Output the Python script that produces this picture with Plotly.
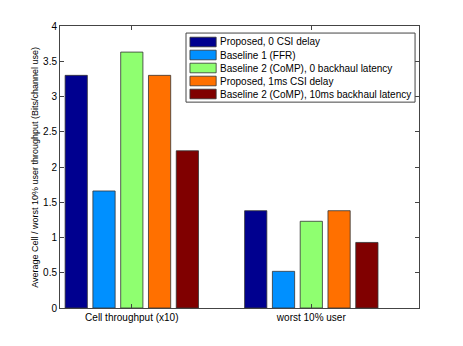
import plotly.graph_objects as go

# 데이터
groups = [1, 2]
group_labels = ["Cell throughput (x10)", "worst 10% user"]
series_names = [
    "Proposed, 0 CSI delay",
    "Baseline 1 (FFR)",
    "Baseline 2 (CoMP), 0 backhaul latency",
    "Proposed, 1ms CSI delay",
    "Baseline 2 (CoMP), 10ms backhaul latency",
]
y_title = "Average Cell / worst 10% user throughput (Bits/channel use)"
proposed_0 = [3.30, 1.38]
baseline_ffr = [1.66, 0.52]
comp_0 = [3.63, 1.23]
proposed_1ms = [3.30, 1.38]
comp_10ms = [2.23, 0.93]
series_values = [proposed_0, baseline_ffr, comp_0, proposed_1ms, comp_10ms]

# jet 계열 색상
COLORS = ["#00008f", "#0090ff", "#8fff70", "#ff7000", "#800000"]
EDGE = "#333333"
FONT = "Liberation Sans, Arial, sans-serif"

fig = go.Figure()
for nm, vals, col in zip(series_names, series_values, COLORS):
    fig.add_trace(go.Bar(x=groups, y=vals, name=nm, marker_color=col,
                         marker_line=dict(color=EDGE, width=0.8), showlegend=False))

# 범례 (MATLAB 스타일: 넓은 패치, 좁은 행 간격)
fig.add_shape(type="rect", xref="paper", yref="paper", x0=0.351, x1=0.989,
              y0=0.730, y1=0.975, line=dict(color="#444444", width=1),
              fillcolor="white", layer="above")
row_px = [42, 55, 68, 81, 94]
for nm, col, rp in zip(series_names, COLORS, row_px):
    yc = 1 - (rp - 26) / 282
    h = 4.8 / 282
    fig.add_shape(type="rect", xref="paper", yref="paper", x0=0.362, x1=0.435,
                  y0=yc - h, y1=yc + h, fillcolor=col,
                  line=dict(color=EDGE, width=0.8), layer="above")
    fig.add_annotation(xref="paper", yref="paper", x=0.441, y=yc, text=nm,
                       showarrow=False, xanchor="left", yanchor="middle",
                       font=dict(size=10))

# y축 제목 (회전 텍스트)
fig.add_annotation(xref="paper", yref="paper", x=-0.07, y=0.5, text=y_title,
                   textangle=-90, showarrow=False, xanchor="center", yanchor="middle",
                   font=dict(size=9))

# 페이지 기본 여백(8px) 보정
fig.update_layout(
    width=455, height=338, barmode="group", bargap=0.226, bargroupgap=0.2,
    plot_bgcolor="white", paper_bgcolor="white",
    font=dict(family=FONT, size=10, color="black"),
    margin=dict(l=52, r=44, t=18, b=38),
)
fig.update_xaxes(range=[0.6, 2.6], tickvals=groups, ticktext=group_labels,
                 showline=True, linecolor="#444444", linewidth=1, mirror="ticks",
                 ticks="inside", ticklen=4, tickcolor="#444444", showgrid=False,
                 zeroline=False, automargin=False)
fig.update_yaxes(range=[0, 4], dtick=0.5, tickformat="~g",
                 showline=True, linecolor="#444444", linewidth=1, mirror="ticks",
                 ticks="inside", ticklen=4, tickcolor="#444444", showgrid=False,
                 zeroline=False, automargin=False)

fig.write_html("out.html")
